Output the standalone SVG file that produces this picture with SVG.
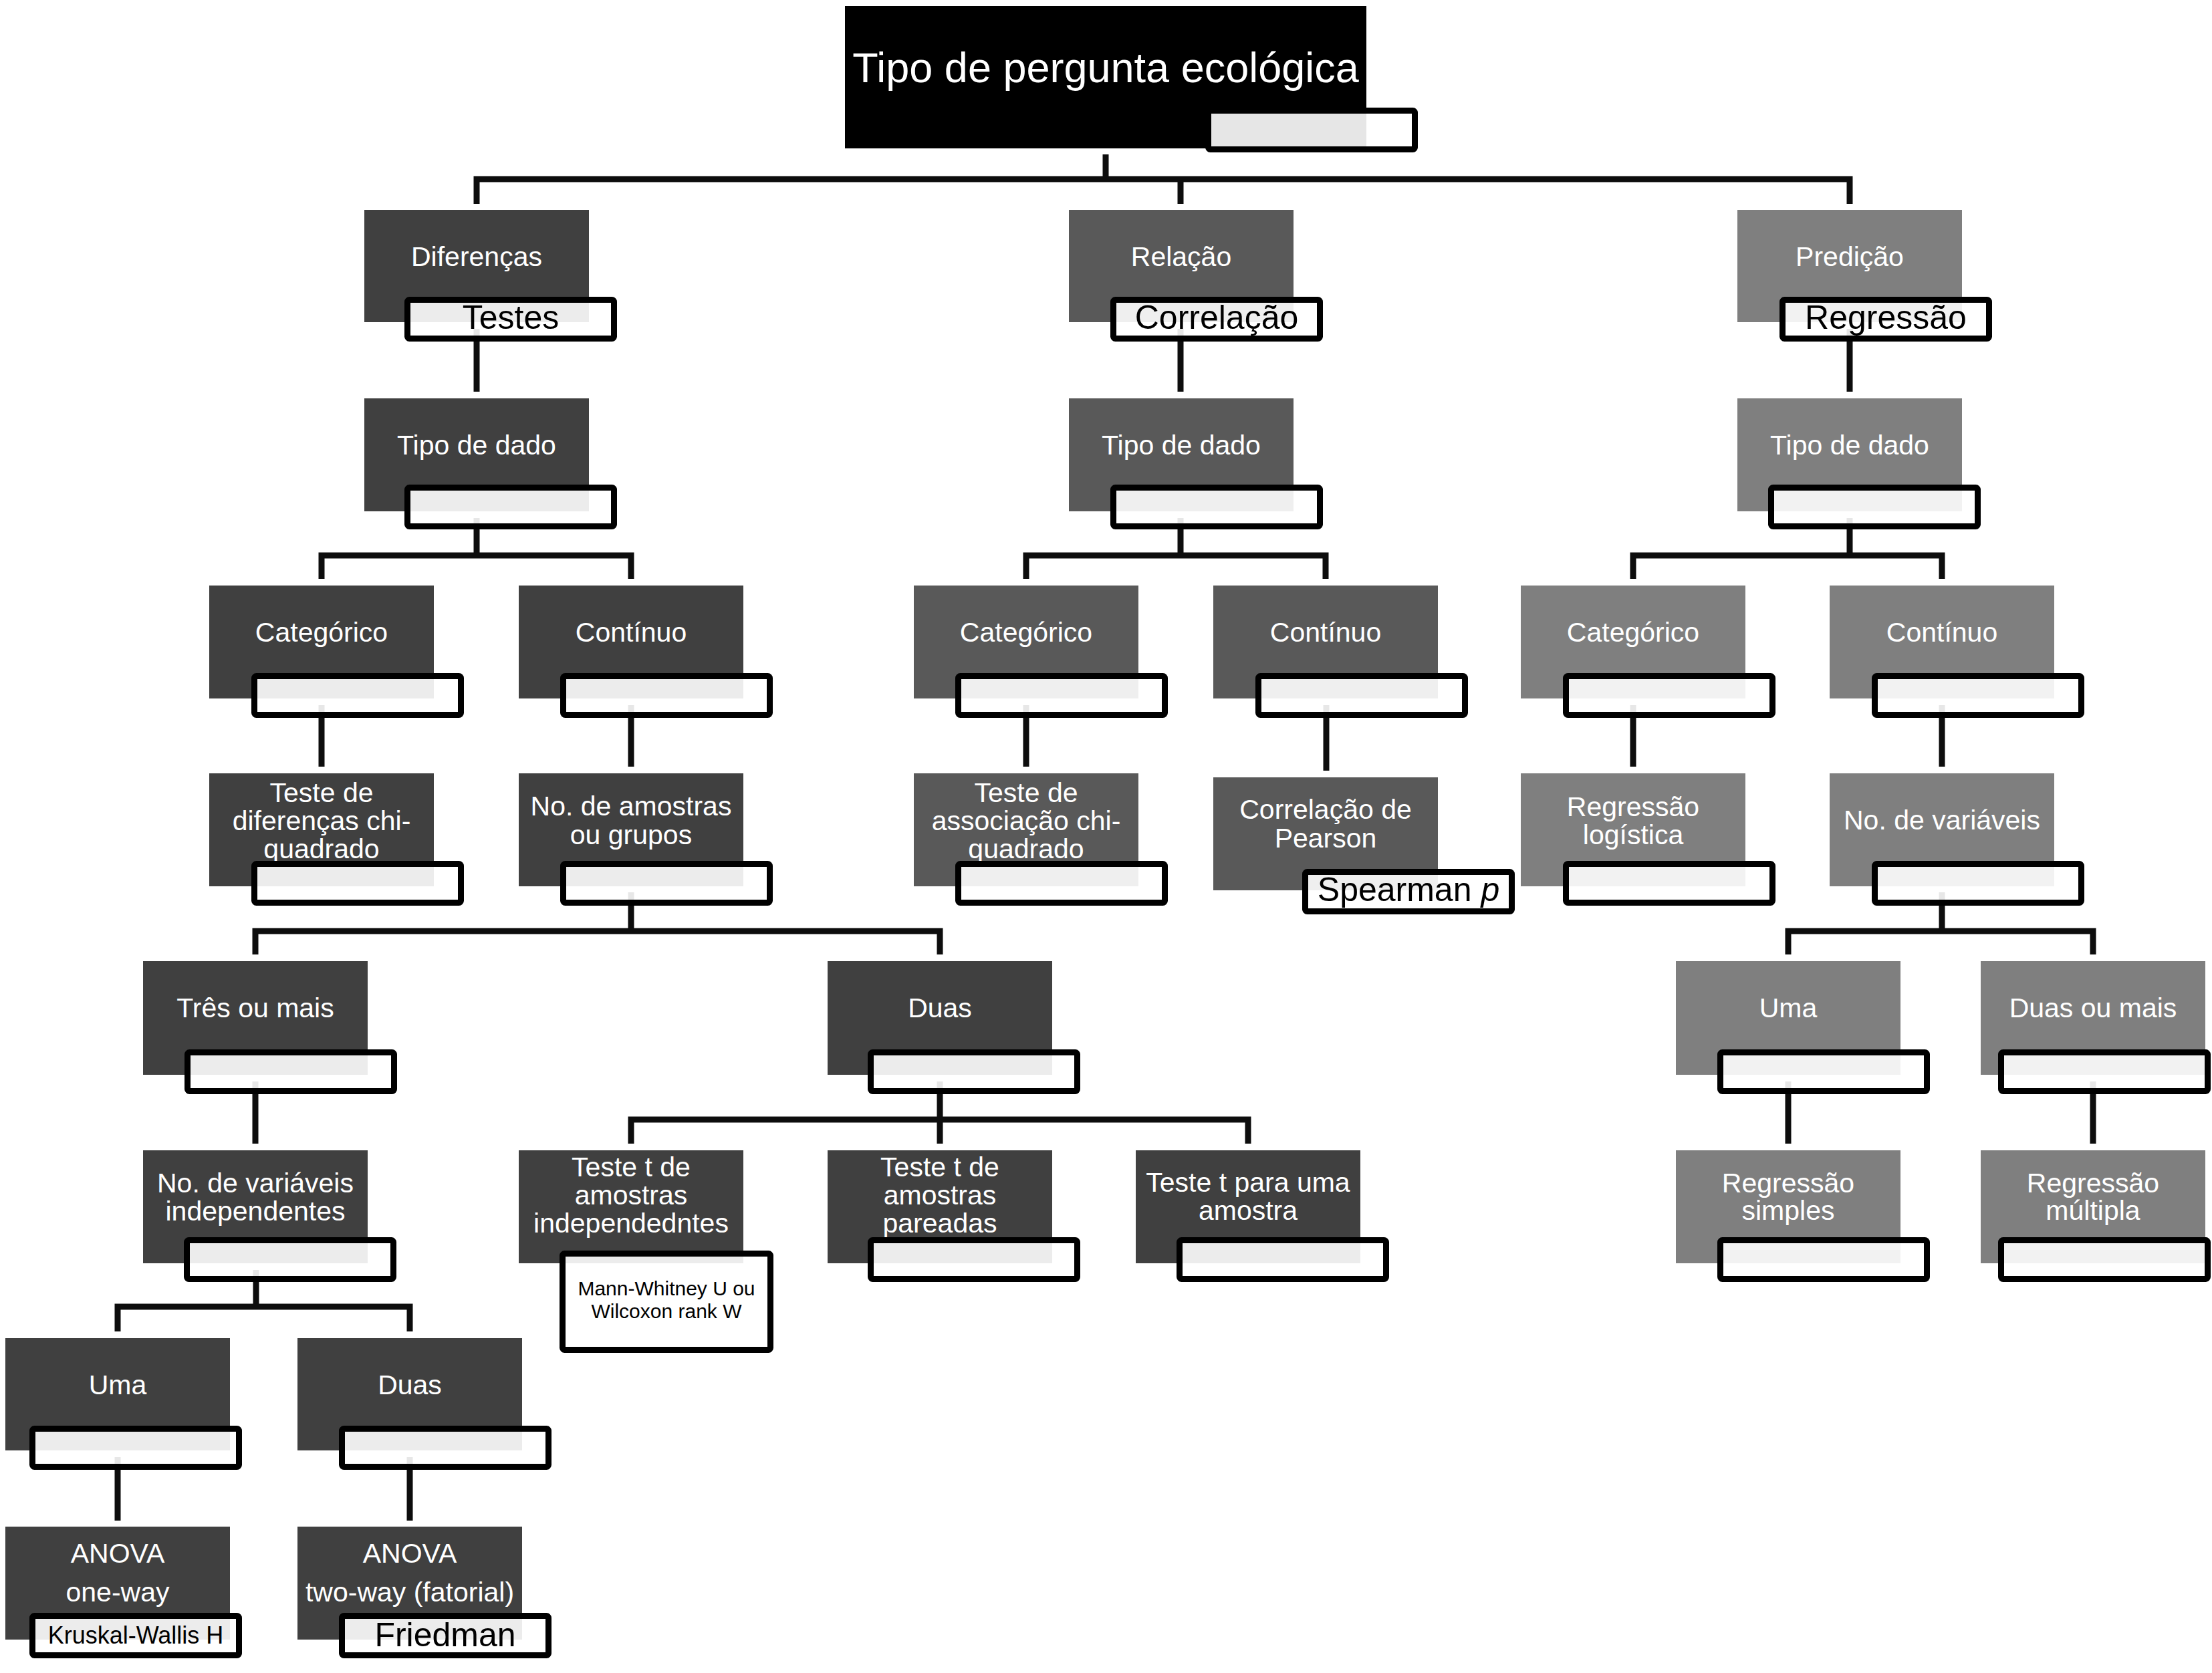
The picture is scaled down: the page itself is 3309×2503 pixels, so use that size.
<svg xmlns="http://www.w3.org/2000/svg" width="3309" height="2503" viewBox="0 0 3309 2503">
<style>
.n0{fill:#000}
.n1{fill:#404040}
.n2{fill:#595959}
.n3{fill:#7f7f7f}
.sb{fill:#fff;fill-opacity:0.9;stroke:#000;stroke-width:9;stroke-linejoin:round}
.t{font-family:"Liberation Sans",Arial,sans-serif;font-size:41px;fill:#fff;text-anchor:middle}
.st{font-family:"Liberation Sans",Arial,sans-serif;font-size:50px;fill:#000;text-anchor:middle}
.cn{fill:none;stroke:#0d0d0d;stroke-width:9}
</style>
<rect width="3309" height="2503" fill="#fff"/>
<g id="connectors" class="cn">
<path d="M1654,231 V268 M713,305 V268 H2767 V305 M1766,268 V305"/>
<path d="M713,492 V586 M1766,492 V586 M2767,492 V586"/>
<path d="M713,775 V831 M481,866 V831 H944 V866"/>
<path d="M1766,775 V831 M1535,866 V831 H1983 V866"/>
<path d="M2767,775 V831 M2443,866 V831 H2905 V866"/>
<path d="M481,1055 V1147 M944,1055 V1147 M1535,1055 V1147 M1984,1055 V1153 M2443,1055 V1147 M2905,1055 V1147"/>
<path d="M944,1335 V1393 M382,1428 V1393 H1406 V1428"/>
<path d="M2905,1335 V1393 M2675,1428 V1393 H3131 V1428"/>
<path d="M382,1618 V1711 M1406,1618 V1711 M944,1711 V1675 H1867 V1711 M2675,1618 V1711 M3131,1618 V1711"/>
<path d="M383,1900 V1955 M176,1992 V1955 H613 V1992"/>
<path d="M176,2180 V2275 M613,2180 V2275"/>
</g>
<g id="root">
<rect class="n0" x="1264" y="9" width="780" height="213"/>
<text x="1654" y="123" style="font-family:'Liberation Sans',Arial,sans-serif;font-size:63px;fill:#fff;text-anchor:middle">Tipo de pergunta ecológica</text>
<rect class="sb" x="1807.5" y="165.5" width="309" height="58" rx="3"/>
</g>
<g id="diferencas">
<rect class="n1" x="545" y="314" width="336" height="168"/>
<text class="t" x="713" y="398">Diferenças</text>
<rect class="sb" x="609.5" y="448.5" width="309" height="58" rx="3"/>
<text class="st" x="764" y="492">Testes</text>
</g>
<g id="relacao">
<rect class="n2" x="1599" y="314" width="336" height="168"/>
<text class="t" x="1767" y="398">Relação</text>
<rect class="sb" x="1665.5" y="448.5" width="309" height="58" rx="3"/>
<text class="st" x="1820" y="492">Correlação</text>
</g>
<g id="predicao">
<rect class="n3" x="2599" y="314" width="336" height="168"/>
<text class="t" x="2767" y="398">Predição</text>
<rect class="sb" x="2666.5" y="448.5" width="309" height="58" rx="3"/>
<text class="st" x="2821" y="492">Regressão</text>
</g>
<g id="tipo-dif">
<rect class="n1" x="545" y="596" width="336" height="169"/>
<text class="t" x="713" y="680">Tipo de dado</text>
<rect class="sb" x="609.5" y="729.5" width="309" height="58" rx="3"/>
</g>
<g id="tipo-rel">
<rect class="n2" x="1599" y="596" width="336" height="169"/>
<text class="t" x="1767" y="680">Tipo de dado</text>
<rect class="sb" x="1665.5" y="729.5" width="309" height="58" rx="3"/>
</g>
<g id="tipo-pred">
<rect class="n3" x="2599" y="596" width="336" height="169"/>
<text class="t" x="2767" y="680">Tipo de dado</text>
<rect class="sb" x="2649.5" y="729.5" width="309" height="58" rx="3"/>
</g>
<g id="cat-dif">
<rect class="n1" x="313" y="876" width="336" height="169"/>
<text class="t" x="481" y="960">Categórico</text>
<rect class="sb" x="380.5" y="1011.5" width="309" height="58" rx="3"/>
</g>
<g id="cont-dif">
<rect class="n1" x="776" y="876" width="336" height="169"/>
<text class="t" x="944" y="960">Contínuo</text>
<rect class="sb" x="842.5" y="1011.5" width="309" height="58" rx="3"/>
</g>
<g id="cat-rel">
<rect class="n2" x="1367" y="876" width="336" height="169"/>
<text class="t" x="1535" y="960">Categórico</text>
<rect class="sb" x="1433.5" y="1011.5" width="309" height="58" rx="3"/>
</g>
<g id="cont-rel">
<rect class="n2" x="1815" y="876" width="336" height="169"/>
<text class="t" x="1983" y="960">Contínuo</text>
<rect class="sb" x="1882.5" y="1011.5" width="309" height="58" rx="3"/>
</g>
<g id="cat-pred">
<rect class="n3" x="2275" y="876" width="336" height="169"/>
<text class="t" x="2443" y="960">Categórico</text>
<rect class="sb" x="2342.5" y="1011.5" width="309" height="58" rx="3"/>
</g>
<g id="cont-pred">
<rect class="n3" x="2737" y="876" width="336" height="169"/>
<text class="t" x="2905" y="960">Contínuo</text>
<rect class="sb" x="2804.5" y="1011.5" width="309" height="58" rx="3"/>
</g>
<g id="chi-dif">
<rect class="n1" x="313" y="1157" width="336" height="169"/>
<text class="t" x="481" y="1200">Teste de</text>
<text class="t" x="481" y="1242">diferenças chi-</text>
<text class="t" x="481" y="1284">quadrado</text>
<rect class="sb" x="380.5" y="1292.5" width="309" height="58" rx="3"/>
</g>
<g id="n-amostras">
<rect class="n1" x="776" y="1157" width="336" height="169"/>
<text class="t" x="944" y="1220">No. de amostras</text>
<text class="t" x="944" y="1263">ou grupos</text>
<rect class="sb" x="842.5" y="1292.5" width="309" height="58" rx="3"/>
</g>
<g id="chi-rel">
<rect class="n2" x="1367" y="1157" width="336" height="169"/>
<text class="t" x="1535" y="1200">Teste de</text>
<text class="t" x="1535" y="1242">associação chi-</text>
<text class="t" x="1535" y="1284">quadrado</text>
<rect class="sb" x="1433.5" y="1292.5" width="309" height="58" rx="3"/>
</g>
<g id="pearson">
<rect class="n2" x="1815" y="1163" width="336" height="169"/>
<text class="t" x="1983" y="1225">Correlação de</text>
<text class="t" x="1983" y="1268">Pearson</text>
<rect class="sb" x="1952.5" y="1304.5" width="309" height="59" rx="3"/>
<text class="st" x="2107" y="1348">Spearman <tspan font-style="italic">p</tspan></text>
</g>
<g id="logistica">
<rect class="n3" x="2275" y="1157" width="336" height="169"/>
<text class="t" x="2443" y="1221">Regressão</text>
<text class="t" x="2443" y="1263">logística</text>
<rect class="sb" x="2342.5" y="1292.5" width="309" height="58" rx="3"/>
</g>
<g id="n-variaveis">
<rect class="n3" x="2737" y="1157" width="336" height="169"/>
<text class="t" x="2905" y="1241">No. de variáveis</text>
<rect class="sb" x="2804.5" y="1292.5" width="309" height="58" rx="3"/>
</g>
<g id="tres-mais">
<rect class="n1" x="214" y="1438" width="336" height="170"/>
<text class="t" x="382" y="1522">Três ou mais</text>
<rect class="sb" x="280.5" y="1574.5" width="309" height="58" rx="3"/>
</g>
<g id="duas-amostras">
<rect class="n1" x="1238" y="1438" width="336" height="170"/>
<text class="t" x="1406" y="1522">Duas</text>
<rect class="sb" x="1302.5" y="1574.5" width="309" height="58" rx="3"/>
</g>
<g id="uma-pred">
<rect class="n3" x="2507" y="1438" width="336" height="170"/>
<text class="t" x="2675" y="1522">Uma</text>
<rect class="sb" x="2573.5" y="1574.5" width="309" height="58" rx="3"/>
</g>
<g id="duas-mais">
<rect class="n3" x="2963" y="1438" width="336" height="170"/>
<text class="t" x="3131" y="1522">Duas ou mais</text>
<rect class="sb" x="2993.5" y="1574.5" width="309" height="58" rx="3"/>
</g>
<g id="n-var-indep">
<rect class="n1" x="214" y="1721" width="336" height="169"/>
<text class="t" x="382" y="1784">No. de variáveis</text>
<text class="t" x="382" y="1826">independentes</text>
<rect class="sb" x="279.5" y="1855.5" width="309" height="58" rx="3"/>
</g>
<g id="t-indep">
<rect class="n1" x="776" y="1721" width="336" height="169"/>
<text class="t" x="944" y="1760">Teste t de</text>
<text class="t" x="944" y="1802">amostras</text>
<text class="t" x="944" y="1844">independedntes</text>
<rect class="sb" x="841.5" y="1875.5" width="311" height="144" rx="3"/>
<text class="st" x="997" y="1938" style="font-size:30px">Mann-Whitney U ou</text>
<text class="st" x="997" y="1972" style="font-size:30px">Wilcoxon rank W</text>
</g>
<g id="t-pareadas">
<rect class="n1" x="1238" y="1721" width="336" height="169"/>
<text class="t" x="1406" y="1760">Teste t de</text>
<text class="t" x="1406" y="1802">amostras</text>
<text class="t" x="1406" y="1844">pareadas</text>
<rect class="sb" x="1302.5" y="1855.5" width="309" height="58" rx="3"/>
</g>
<g id="t-uma">
<rect class="n1" x="1699" y="1721" width="336" height="169"/>
<text class="t" x="1867" y="1783">Teste t para uma</text>
<text class="t" x="1867" y="1825">amostra</text>
<rect class="sb" x="1764.5" y="1855.5" width="309" height="58" rx="3"/>
</g>
<g id="reg-simples">
<rect class="n3" x="2507" y="1721" width="336" height="169"/>
<text class="t" x="2675" y="1784">Regressão</text>
<text class="t" x="2675" y="1825">simples</text>
<rect class="sb" x="2573.5" y="1855.5" width="309" height="58" rx="3"/>
</g>
<g id="reg-multipla">
<rect class="n3" x="2963" y="1721" width="336" height="169"/>
<text class="t" x="3131" y="1784">Regressão</text>
<text class="t" x="3131" y="1825">múltipla</text>
<rect class="sb" x="2993.5" y="1855.5" width="309" height="58" rx="3"/>
</g>
<g id="uma-indep">
<rect class="n1" x="8" y="2002" width="336" height="168"/>
<text class="t" x="176" y="2086">Uma</text>
<rect class="sb" x="48.5" y="2137.5" width="309" height="57" rx="3"/>
</g>
<g id="duas-indep">
<rect class="n1" x="445" y="2002" width="336" height="168"/>
<text class="t" x="613" y="2086">Duas</text>
<rect class="sb" x="511.5" y="2137.5" width="309" height="57" rx="3"/>
</g>
<g id="anova-one">
<rect class="n1" x="8" y="2284" width="336" height="169"/>
<text class="t" x="176" y="2338">ANOVA</text>
<text class="t" x="176" y="2396">one-way</text>
<rect class="sb" x="48.5" y="2417.5" width="309" height="59" rx="3"/>
<text class="st" x="203" y="2459" style="font-size:36px">Kruskal-Wallis H</text>
</g>
<g id="anova-two">
<rect class="n1" x="445" y="2284" width="336" height="169"/>
<text class="t" x="613" y="2338">ANOVA</text>
<text class="t" x="613" y="2396">two-way (fatorial)</text>
<rect class="sb" x="511.5" y="2417.5" width="309" height="59" rx="3"/>
<text class="st" x="666" y="2463">Friedman</text>
</g>
</svg>
